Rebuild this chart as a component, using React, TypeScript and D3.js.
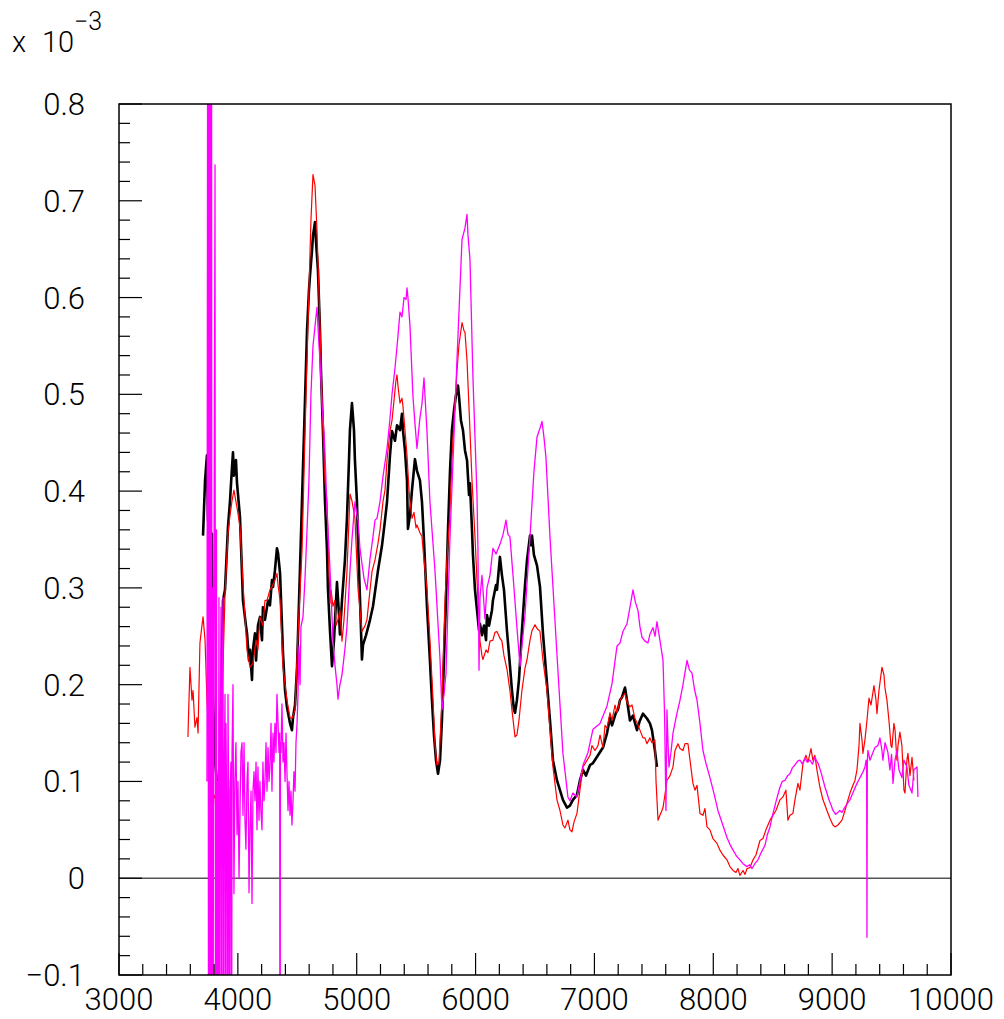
import React from "react";
import * as d3 from "d3";

type Pt = [number, number];

// axis definitions
const xMajorTicks = [3000, 4000, 5000, 6000, 7000, 8000, 9000, 10000];
const xMinorStep = 200;
const yMajorTicks = [-0.1, 0, 0.1, 0.2, 0.3, 0.4, 0.5, 0.6, 0.7, 0.8];
const yTickLabels = ["\u22120.1", "0", "0.1", "0.2", "0.3", "0.4", "0.5", "0.6", "0.7", "0.8"];
const yMinorStep = 0.02;
const exponentText = "\u22123";

// spectra (wavelength, value in units of 1e-3)
const blackSpectrum: Pt[] = [
  [3707,0.354],[3724,0.411],[3740,0.437],[3749,0.37],[3757,0.447],[3766,0.349],[3782,0.356],[3791,0.184],
  [3808,0.122],[3824,0.098],[3833,0.070],[3850,0.115],[3875,0.287],[3892,0.298],[3917,0.363],[3934,0.39],
  [3951,0.425],[3959,0.44],[3967,0.416],[3984,0.432],[3993,0.408],[4018,0.373],[4043,0.287],[4068,0.261],
  [4077,0.253],[4094,0.225],[4102,0.236],[4119,0.205],[4127,0.236],[4144,0.253],[4153,0.225],[4169,0.261],
  [4186,0.27],[4203,0.246],[4211,0.28],[4228,0.267],[4254,0.287],[4270,0.282],[4287,0.308],[4296,0.301],
  [4312,0.318],[4329,0.341],[4338,0.336],[4355,0.315],[4380,0.232],[4397,0.194],[4413,0.177],[4439,0.160],
  [4455,0.153],[4464,0.166],[4481,0.179],[4498,0.218],[4523,0.321],[4548,0.425],[4565,0.494],[4582,0.566],
  [4598,0.607],[4607,0.623],[4624,0.649],[4632,0.664],[4649,0.678],[4657,0.659],[4674,0.628],[4691,0.566],
  [4699,0.525],[4716,0.462],[4733,0.39],[4750,0.339],[4758,0.299],[4775,0.256],[4792,0.219],[4809,0.246],
  [4826,0.287],[4834,0.306],[4851,0.272],[4859,0.252],[4876,0.287],[4901,0.329],[4918,0.372],[4935,0.432],
  [4943,0.463],[4960,0.491],[4977,0.463],[4985,0.432],[5002,0.389],[5011,0.349],[5028,0.287],[5044,0.226],
  [5053,0.241],[5078,0.251],[5112,0.267],[5137,0.281],[5179,0.318],[5213,0.344],[5238,0.37],[5255,0.389],
  [5280,0.437],[5297,0.462],[5322,0.452],[5339,0.468],[5364,0.463],[5381,0.48],[5389,0.463],[5406,0.442],
  [5423,0.411],[5431,0.361],[5448,0.375],[5465,0.401],[5490,0.433],[5507,0.421],[5532,0.411],[5549,0.389],
  [5566,0.349],[5591,0.281],[5616,0.225],[5633,0.184],[5650,0.148],[5667,0.122],[5684,0.108],[5701,0.122],
  [5717,0.163],[5734,0.225],[5751,0.287],[5768,0.36],[5785,0.421],[5801,0.463],[5818,0.483],[5835,0.499],
  [5852,0.509],[5860,0.499],[5877,0.473],[5894,0.463],[5911,0.442],[5928,0.432],[5945,0.396],[5953,0.408],
  [5970,0.36],[5978,0.334],[5995,0.298],[6012,0.277],[6029,0.256],[6037,0.263],[6054,0.251],[6071,0.261],
  [6088,0.246],[6096,0.272],[6113,0.261],[6138,0.277],[6146,0.287],[6172,0.303],[6180,0.298],[6205,0.332],
  [6222,0.313],[6239,0.298],[6264,0.256],[6289,0.22],[6306,0.194],[6323,0.174],[6332,0.171],[6348,0.184],
  [6365,0.205],[6390,0.256],[6416,0.303],[6433,0.329],[6458,0.354],[6466,0.344],[6475,0.354],[6491,0.334],
  [6517,0.323],[6542,0.301],[6567,0.253],[6601,0.201],[6626,0.163],[6651,0.122],[6685,0.101],[6710,0.091],
  [6735,0.081],[6769,0.073],[6794,0.075],[6819,0.081],[6853,0.086],[6878,0.101],[6904,0.112],[6929,0.106],
  [6963,0.117],[6988,0.119],[7030,0.127],[7072,0.135],[7106,0.15],[7131,0.166],[7148,0.158],[7181,0.171],
  [7198,0.174],[7215,0.184],[7232,0.187],[7257,0.197],[7274,0.184],[7299,0.163],[7324,0.168],[7358,0.153],
  [7383,0.163],[7408,0.17],[7442,0.165],[7467,0.16],[7484,0.153],[7509,0.132],[7526,0.115],
];

const redSpectrum: Pt[] = [
  [3580,0.146],[3597,0.218],[3614,0.184],[3623,0.194],[3639,0.156],[3656,0.166],[3665,0.150],[3681,0.243],
  [3698,0.261],[3707,0.27],[3724,0.246],[3740,0.184],[3749,0.166],[3766,0.098],[3782,0.091],[3791,0.081],
  [3808,0.086],[3816,0.067],[3833,0.098],[3850,0.132],[3867,0.184],[3892,0.294],[3917,0.356],[3934,0.375],
  [3951,0.39],[3967,0.401],[3993,0.383],[4018,0.363],[4043,0.305],[4077,0.236],[4102,0.218],[4127,0.222],
  [4153,0.246],[4169,0.236],[4186,0.27],[4211,0.261],[4228,0.287],[4245,0.287],[4270,0.298],[4287,0.301],
  [4312,0.308],[4329,0.315],[4338,0.303],[4355,0.287],[4380,0.218],[4413,0.184],[4439,0.166],[4455,0.165],
  [4481,0.174],[4506,0.253],[4540,0.339],[4565,0.46],[4582,0.535],[4598,0.607],[4615,0.68],[4632,0.727],
  [4649,0.716],[4666,0.669],[4691,0.571],[4716,0.462],[4733,0.411],[4750,0.389],[4775,0.284],[4784,0.298],
  [4800,0.281],[4817,0.287],[4826,0.261],[4842,0.267],[4859,0.277],[4876,0.245],[4893,0.267],[4918,0.317],
  [4935,0.37],[4943,0.397],[4960,0.39],[4985,0.372],[5011,0.299],[5028,0.277],[5044,0.255],[5070,0.261],
  [5086,0.267],[5112,0.298],[5129,0.317],[5154,0.329],[5179,0.346],[5196,0.36],[5221,0.389],[5238,0.401],
  [5255,0.432],[5280,0.462],[5297,0.473],[5314,0.494],[5330,0.514],[5339,0.52],[5347,0.509],[5364,0.491],
  [5381,0.496],[5389,0.488],[5406,0.463],[5423,0.437],[5440,0.401],[5448,0.39],[5465,0.372],[5482,0.378],
  [5499,0.362],[5507,0.365],[5532,0.357],[5549,0.353],[5566,0.329],[5591,0.299],[5616,0.246],[5642,0.184],
  [5659,0.137],[5675,0.117],[5692,0.119],[5717,0.184],[5743,0.287],[5759,0.329],[5785,0.38],[5801,0.432],
  [5818,0.473],[5844,0.525],[5860,0.551],[5886,0.574],[5902,0.566],[5911,0.564],[5928,0.535],[5953,0.462],
  [5970,0.411],[5995,0.353],[6012,0.308],[6037,0.245],[6054,0.23],[6062,0.226],[6088,0.236],[6104,0.233],
  [6121,0.245],[6146,0.246],[6163,0.254],[6180,0.255],[6205,0.248],[6222,0.245],[6239,0.23],[6264,0.216],
  [6289,0.194],[6306,0.174],[6332,0.146],[6348,0.148],[6365,0.163],[6390,0.194],[6416,0.217],[6433,0.226],
  [6458,0.246],[6475,0.256],[6500,0.262],[6517,0.258],[6542,0.255],[6567,0.225],[6601,0.194],[6626,0.153],
  [6651,0.115],[6685,0.081],[6710,0.07],[6735,0.055],[6752,0.052],[6777,0.06],[6794,0.05],[6811,0.048],
  [6828,0.058],[6853,0.067],[6878,0.091],[6904,0.115],[6929,0.12],[6963,0.127],[6979,0.137],[7005,0.132],
  [7030,0.137],[7047,0.148],[7072,0.135],[7089,0.158],[7106,0.155],[7131,0.171],[7148,0.163],[7173,0.179],
  [7190,0.171],[7215,0.184],[7232,0.187],[7257,0.191],[7274,0.182],[7299,0.177],[7316,0.179],[7341,0.165],
  [7358,0.161],[7383,0.153],[7408,0.145],[7425,0.145],[7442,0.139],[7467,0.145],[7484,0.14],[7509,0.143],
  [7518,0.101],[7535,0.06],[7551,0.065],[7568,0.07],[7577,0.073],[7593,0.086],[7610,0.101],[7636,0.106],
  [7661,0.115],[7678,0.132],[7703,0.139],[7720,0.134],[7745,0.132],[7762,0.139],[7787,0.139],[7804,0.122],
  [7829,0.098],[7846,0.091],[7863,0.096],[7888,0.067],[7913,0.065],[7930,0.072],[7947,0.053],[7972,0.05],
  [7997,0.041],[8031,0.036],[8056,0.029],[8081,0.024],[8115,0.019],[8140,0.012],[8166,0.008],[8191,0.006],
  [8207,0.01],[8224,0.003],[8250,0.008],[8267,0.004],[8284,0.01],[8309,0.011],[8334,0.019],[8359,0.024],
  [8393,0.039],[8418,0.041],[8443,0.05],[8477,0.06],[8502,0.065],[8527,0.07],[8561,0.081],[8586,0.084],
  [8611,0.091],[8628,0.06],[8645,0.065],[8670,0.067],[8687,0.081],[8712,0.098],[8729,0.091],[8755,0.119],
  [8780,0.127],[8797,0.12],[8822,0.134],[8838,0.122],[8855,0.127],[8872,0.112],[8897,0.094],[8923,0.081],
  [8956,0.07],[8981,0.062],[9007,0.055],[9024,0.053],[9049,0.055],[9083,0.06],[9108,0.07],[9133,0.081],
  [9150,0.088],[9175,0.096],[9192,0.101],[9209,0.112],[9226,0.137],[9234,0.16],[9251,0.143],[9259,0.129],
  [9276,0.143],[9293,0.163],[9310,0.186],[9327,0.179],[9352,0.199],[9369,0.184],[9377,0.17],[9394,0.194],
  [9419,0.218],[9436,0.21],[9444,0.197],[9461,0.184],[9478,0.163],[9495,0.137],[9503,0.135],[9520,0.16],
  [9529,0.153],[9545,0.122],[9554,0.137],[9570,0.151],[9587,0.137],[9604,0.091],[9613,0.088],[9629,0.122],
  [9638,0.129],[9655,0.106],[9672,0.125],[9688,0.101],
];

const magentaSpectrum: Pt[] = [
  [3740,0.10],[3748,1.2],[3753,-0.3],[3757,1.2],[3762,-0.3],[3766,1.2],[3770,0.20],[3774,-0.3],
  [3778,1.2],[3782,-0.3],[3787,0.30],[3791,-0.3],[3795,0.10],[3808,0.737],[3812,-0.3],[3816,0.12],
  [3820,0.36],[3824,-0.3],[3829,0.10],[3833,-0.3],[3841,0.29],[3846,-0.3],[3850,0.10],[3858,0.28],
  [3863,-0.3],[3867,0.15],[3875,0.29],[3879,-0.3],[3883,0.08],[3892,0.19],[3896,-0.3],[3900,0.16],
  [3909,0.03],[3913,-0.3],[3917,0.19],[3925,0.02],[3929,-0.3],[3934,0.09],[3942,0.12],[3947,-0.3],
  [3951,0.13],[3959,0.20],[3967,-0.016],[3975,0.10],[3984,0.14],[3993,0.045],[4001,0.10],[4010,0.0],
  [4018,0.07],[4026,0.13],[4035,0.14],[4043,0.065],[4052,0.14],[4060,0.06],[4068,0.03],[4077,0.10],
  [4085,0.12],[4094,-0.015],[4102,0.05],[4111,0.09],[4119,-0.026],[4127,0.09],[4136,0.11],[4144,0.08],
  [4153,0.12],[4161,0.05],[4169,0.115],[4178,0.06],[4186,0.10],[4194,0.07],[4203,0.05],[4211,0.12],
  [4220,0.08],[4228,0.10],[4237,0.14],[4245,0.09],[4254,0.135],[4262,0.10],[4270,0.115],[4279,0.16],
  [4287,0.09],[4296,0.15],[4304,0.12],[4312,0.16],[4321,0.13],[4329,0.19],[4338,0.16],[4346,0.13],
  [4352,0.15],[4355,-0.5],[4358,0.14],[4363,0.13],[4371,0.18],[4380,0.12],[4388,0.14],[4397,0.10],
  [4405,0.15],[4413,0.11],[4422,0.07],[4430,0.10],[4439,0.065],[4447,0.09],[4455,0.055],[4464,0.08],
  [4472,0.11],[4481,0.09],[4489,0.14],[4498,0.16],[4506,0.19],[4514,0.24],[4523,0.20],[4531,0.26],
  [4548,0.27],[4565,0.31],[4582,0.36],[4598,0.41],[4615,0.50],[4632,0.55],[4649,0.57],[4657,0.58],
  [4666,0.59],[4674,0.57],[4683,0.55],[4691,0.535],[4708,0.49],[4725,0.46],[4733,0.44],[4750,0.38],
  [4775,0.32],[4792,0.27],[4800,0.245],[4817,0.22],[4834,0.20],[4842,0.185],[4859,0.20],[4876,0.21],
  [4901,0.237],[4918,0.26],[4943,0.317],[4960,0.35],[4985,0.389],[5002,0.375],[5011,0.37],[5028,0.34],
  [5044,0.325],[5061,0.31],[5086,0.298],[5112,0.33],[5137,0.353],[5154,0.37],[5171,0.372],[5196,0.389],
  [5221,0.415],[5255,0.444],[5280,0.475],[5297,0.50],[5322,0.527],[5347,0.56],[5364,0.585],[5381,0.58],
  [5398,0.60],[5415,0.598],[5423,0.61],[5431,0.60],[5448,0.571],[5473,0.498],[5490,0.47],[5507,0.444],
  [5532,0.476],[5549,0.49],[5566,0.517],[5591,0.462],[5616,0.389],[5659,0.317],[5701,0.226],[5717,0.174],
  [5734,0.19],[5751,0.211],[5785,0.353],[5844,0.537],[5886,0.66],[5911,0.672],[5928,0.686],[5936,0.665],
  [5953,0.639],[5978,0.517],[6012,0.395],[6020,0.34],[6029,0.215],[6037,0.29],[6054,0.313],[6079,0.268],
  [6096,0.30],[6121,0.313],[6146,0.341],[6172,0.335],[6205,0.345],[6231,0.355],[6256,0.37],[6273,0.355],
  [6289,0.353],[6315,0.313],[6348,0.259],[6374,0.219],[6390,0.24],[6416,0.272],[6458,0.353],[6491,0.42],
  [6517,0.456],[6542,0.465],[6559,0.472],[6576,0.455],[6592,0.435],[6626,0.353],[6685,0.231],[6735,0.129],
  [6777,0.084],[6794,0.08],[6819,0.088],[6853,0.084],[6904,0.117],[6946,0.13],[6988,0.154],[7047,0.16],
  [7106,0.178],[7148,0.201],[7190,0.24],[7215,0.243],[7240,0.255],[7274,0.263],[7299,0.28],[7324,0.298],
  [7345,0.285],[7366,0.277],[7383,0.26],[7400,0.249],[7425,0.245],[7450,0.243],[7467,0.252],[7493,0.259],
  [7510,0.25],[7526,0.265],[7551,0.246],[7577,0.225],[7590,0.17],[7602,0.07],[7606,0.12],[7610,0.174],
  [7619,0.14],[7627,0.115],[7644,0.13],[7661,0.15],[7690,0.168],[7720,0.184],[7745,0.2],[7779,0.225],
  [7800,0.215],[7821,0.212],[7842,0.195],[7863,0.184],[7888,0.16],[7913,0.132],[7940,0.118],[7972,0.104],
  [8005,0.088],[8039,0.07],[8080,0.055],[8115,0.042],[8140,0.035],[8166,0.029],[8195,0.023],[8224,0.019],
  [8250,0.015],[8284,0.012],[8305,0.014],[8326,0.01],[8350,0.015],[8376,0.019],[8405,0.027],[8435,0.034],
  [8455,0.045],[8477,0.053],[8498,0.065],[8519,0.075],[8540,0.085],[8561,0.094],[8580,0.1],[8603,0.101],
  [8625,0.106],[8645,0.108],[8665,0.114],[8687,0.117],[8710,0.121],[8729,0.122],[8750,0.118],[8771,0.124],
  [8790,0.12],[8813,0.122],[8835,0.118],[8855,0.125],[8870,0.121],[8881,0.119],[8900,0.112],[8914,0.106],
  [8940,0.094],[8956,0.088],[8973,0.081],[8990,0.076],[9007,0.07],[9030,0.066],[9049,0.068],[9065,0.07],
  [9083,0.068],[9100,0.072],[9116,0.075],[9133,0.078],[9150,0.081],[9167,0.086],[9184,0.091],[9209,0.098],
  [9226,0.102],[9243,0.106],[9260,0.11],[9276,0.115],[9286,0.122],[9290,0.12],[9293,-0.061],[9296,0.12],
  [9301,0.132],[9318,0.122],[9343,0.13],[9360,0.135],[9385,0.137],[9402,0.145],[9419,0.132],[9427,0.122],
  [9445,0.14],[9453,0.137],[9469,0.13],[9486,0.112],[9500,0.128],[9512,0.098],[9529,0.122],[9545,0.132],
  [9562,0.112],[9587,0.104],[9604,0.122],[9629,0.115],[9646,0.096],[9672,0.088],[9688,0.112],[9714,0.115],
  [9722,0.084],
];

const FONT = "Roboto, 'Liberation Sans', Arial, sans-serif";

export default function App() {
  const W = 1004, H = 1019;
  const left = 119, right = 951, top = 104, bottom = 975;
  const x = d3.scaleLinear().domain([3000, 10000]).range([left, right]);
  const y = d3.scaleLinear().domain([-0.1, 0.8]).range([bottom, top]);
  const line = d3.line<Pt>().x((d) => x(d[0])).y((d) => y(d[1]));

  const xMinor = d3.range(3000, 10001, xMinorStep).filter((v) => v % 1000 !== 0);
  const yMinor = d3
    .range(Math.round(-0.1 / yMinorStep), Math.round(0.8 / yMinorStep) + 1)
    .map((i) => i * yMinorStep)
    .filter((v) => Math.abs(Math.round(v * 10) - v * 10) > 1e-6);

  return (
    <svg
      width={W}
      height={H}
      style={{ position: "absolute", left: 0, top: 0, background: "#fff" }}
      fontFamily={FONT}
    >
      <defs>
        <clipPath id="frame">
          <rect x={left} y={top} width={right - left} height={bottom - top} />
        </clipPath>
      </defs>
      <rect x={0} y={0} width={W} height={H} fill="#fff" />

      {/* zero line */}
      <line x1={left} x2={right} y1={y(0)} y2={y(0)} stroke="#555" strokeWidth={1.5} />

      <g clipPath="url(#frame)" fill="none" strokeLinejoin="round">
        <path d={line(blackSpectrum) || ""} stroke="#000" strokeWidth={2.6} />
        <path d={line(redSpectrum) || ""} stroke="#ff0000" strokeWidth={1.2} />
        <path d={line(magentaSpectrum) || ""} stroke="#ff00ff" strokeWidth={1.3} />
      </g>

      {/* frame */}
      <rect x={left} y={top} width={right - left} height={bottom - top} fill="none" stroke="#000" strokeWidth={1.5} />

      {/* x ticks */}
      {xMajorTicks.map((v) => (
        <line key={"xM" + v} x1={x(v)} x2={x(v)} y1={bottom} y2={bottom - 22} stroke="#000" strokeWidth={1.2} />
      ))}
      {xMinor.map((v) => (
        <line key={"xm" + v} x1={x(v)} x2={x(v)} y1={bottom} y2={bottom - 11} stroke="#000" strokeWidth={1.2} />
      ))}
      {xMajorTicks.map((v) => (
        <text key={"xl" + v} x={x(v)} y={1010} fontSize={31} fontWeight={300} textAnchor="middle" fill="#000">
          {String(v)}
        </text>
      ))}

      {/* y ticks */}
      {yMajorTicks.map((v) => (
        <line key={"yM" + v} x1={left} x2={left + 23} y1={y(v)} y2={y(v)} stroke="#000" strokeWidth={1.2} />
      ))}
      {yMinor.map((v) => (
        <line key={"ym" + v} x1={left} x2={left + 11} y1={y(v)} y2={y(v)} stroke="#000" strokeWidth={1.2} />
      ))}
      {yMajorTicks.map((v, i) => (
        <text key={"yl" + v} x={85} y={y(v) + 11} fontSize={31} fontWeight={300} textAnchor="end" fill="#000">
          {yTickLabels[i]}
        </text>
      ))}

      {/* exponent */}
      <text x={12} y={52} fontSize={29} fontWeight={300} fill="#000">x</text>
      <text x={42} y={52} fontSize={29} fontWeight={300} fill="#000">10</text>
      <text x={74} y={30} fontSize={25} fontWeight={300} fill="#000">{exponentText}</text>
    </svg>
  );
}
